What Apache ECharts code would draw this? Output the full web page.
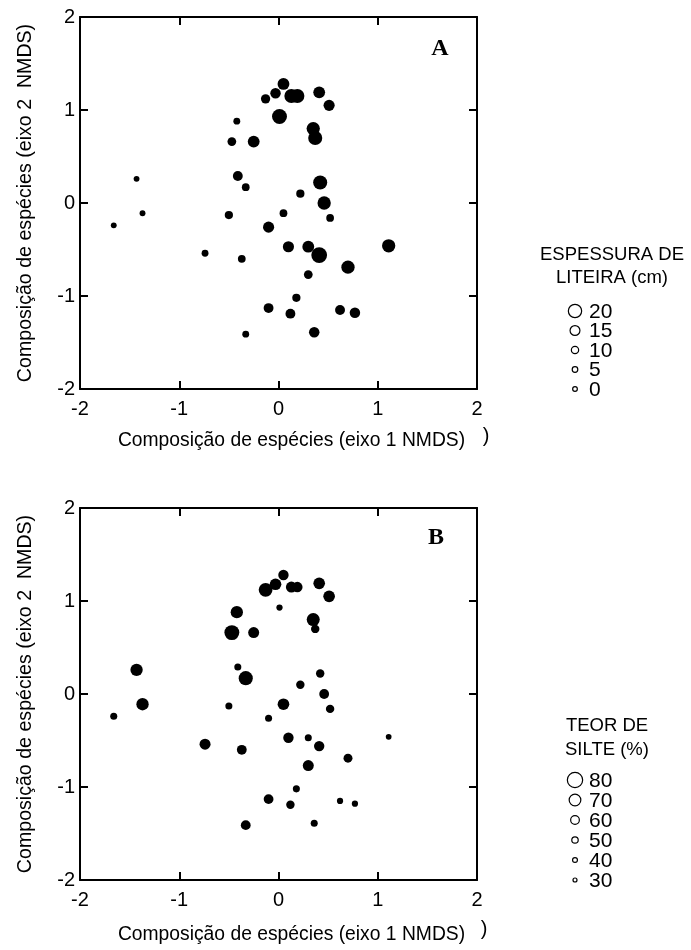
<!DOCTYPE html>
<html>
<head>
<meta charset="utf-8">
<script src="https://cdn.jsdelivr.net/npm/echarts@6/dist/echarts.min.js"></script>
<style>html,body{margin:0;padding:0;background:#fff}#c{width:691px;height:950px}</style>
</head>
<body>
<div id="c"></div>
<script>
// NMDS axis 1 and axis 2 scores (same sites in both panels)
const nmds1 = [0.05,-0.03,-0.13,0.13,0.19,0.41,0.51,0.01,-0.42,-0.47,-0.25,0.35,0.37,-1.43,-0.41,-0.33,0.42,0.22,0.46,-1.37,-0.50,0.05,0.52,-1.66,-0.10,0.10,0.30,0.41,1.11,-0.74,-0.37,0.70,0.30,0.18,-0.10,0.12,0.62,0.77,0.36,-0.33];
const nmds2 = [1.28,1.18,1.12,1.15,1.15,1.19,1.05,0.93,0.88,0.66,0.66,0.80,0.70,0.26,0.29,0.17,0.22,0.10,0.00,-0.11,-0.13,-0.11,-0.16,-0.24,-0.26,-0.47,-0.47,-0.56,-0.46,-0.54,-0.60,-0.69,-0.77,-1.02,-1.13,-1.19,-1.15,-1.18,-1.39,-1.41];
// Panel A: litter thickness (cm)
const litter = [18,16,14,21,21,18,17,22,9,13,18,20,21,6,15,11,21,12,20,6,12,11,11,6,17,17,18,23,20,9,11,20,13,12,15,15,15,16,16,9];
// Panel B: silt content (%)
const silt = [66,70,76,68,66,70,70,49,72,79,68,74,59,72,53,77,59,59,64,72,53,70,59,53,53,66,53,66,46,68,64,61,68,53,64,59,49,49,53,64];
// Axis ticks and legend entries
const axisTicks = [-2,-1,0,1,2];
const litterLegend = [20,15,10,5,0];
const siltLegend = [80,70,60,50,40,30];
const xTitle = 'Composição de espécies (eixo 1 NMDS)';
const yTitle = 'Composição de espécies (eixo 2  NMDS)';

const FONT = '"Liberation Sans", Arial, sans-serif';
function sizeLitter(v){ return 4.7 + 0.09*v + 0.017*v*v; }
function sizeSilt(v){ const u = v-30; return 4 + 0.0527*u + 0.003467*u*u; }

const chart = echarts.init(document.getElementById('c'), null, {renderer:'canvas'});

const grids = [
  {left:80, top:17, width:397, height:372},
  {left:80, top:508, width:397, height:372}
];

function xAx(gi, pos, showLabel, gap){
  return {
    gridIndex: gi, type:'value', position: pos, min: axisTicks[0], max: axisTicks[axisTicks.length-1], interval: 1,
    splitLine:{show:false},
    axisLine:{show:true, onZero:false, lineStyle:{color:'#000', width:2}},
    axisTick:{show:true, inside:true, length:8, lineStyle:{color:'#000', width:2}},
    axisLabel:{show:showLabel, color:'#000', fontSize:20, fontFamily:FONT, margin:10},
    name: showLabel ? xTitle : '', nameLocation:'middle', nameGap: gap,
    nameTextStyle:{color:'#000', fontSize:19.3, fontFamily:FONT, padding:[0,0,0,26]}
  };
}
function yAx(gi, pos, showLabel){
  return {
    gridIndex: gi, type:'value', position: pos, min: axisTicks[0], max: axisTicks[axisTicks.length-1], interval: 1,
    splitLine:{show:false},
    axisLine:{show:true, onZero:false, lineStyle:{color:'#000', width:2}},
    axisTick:{show:true, inside:true, length:8, lineStyle:{color:'#000', width:2}},
    axisLabel:{show:showLabel, color:'#000', fontSize:20, fontFamily:FONT, margin:5},
    name: showLabel ? yTitle : '', nameLocation:'middle', nameGap: 44, nameRotate: 90,
    nameTextStyle:{color:'#000', fontSize:19.6, fontFamily:FONT}
  };
}

const dataA = nmds1.map((x,i)=>[x, nmds2[i], litter[i]]);
const dataB = nmds1.map((x,i)=>[x, nmds2[i], silt[i]]);

const graphics = [];
function txt(x,y,t,opt){
  graphics.push({type:'text', x:x, y:y, style:Object.assign({text:t, fill:'#000', font:'19px '+FONT, textAlign:'center', textVerticalAlign:'middle'}, opt||{})});
}
// panel letters
txt(440, 49, 'A', {font:'bold 24px "Liberation Serif", "Times New Roman", serif'});
txt(436, 538, 'B', {font:'bold 24px "Liberation Serif", "Times New Roman", serif'});
// stray parentheses
txt(486, 436, ')', {font:'20px '+FONT});
txt(484, 929, ')', {font:'20px '+FONT});
// legend A
txt(612, 255, 'ESPESSURA DE', {font:'18.5px '+FONT});
txt(612, 278, 'LITEIRA (cm)', {font:'18.5px '+FONT});
litterLegend.forEach((v,i)=>{
  const y = 311 + i*19.5;
  graphics.push({type:'circle', shape:{cx:575, cy:y, r:sizeLitter(v)/2}, style:{fill:'#fff', stroke:'#000', lineWidth:1.2}});
  txt(589, y+1, String(v), {font:'21px '+FONT, textAlign:'left'});
});
// legend B
txt(607, 726, 'TEOR DE', {font:'18.5px '+FONT});
txt(607, 750, 'SILTE (%)', {font:'18.5px '+FONT});
siltLegend.forEach((v,i)=>{
  const y = 780 + i*20;
  graphics.push({type:'circle', shape:{cx:575, cy:y, r:sizeSilt(v)/2}, style:{fill:'#fff', stroke:'#000', lineWidth:1.2}});
  txt(589, y+1, String(v), {font:'21px '+FONT, textAlign:'left'});
});

chart.setOption({
  animation:false,
  backgroundColor:'#fff',
  grid: grids,
  xAxis: [xAx(0,'bottom',true,42), xAx(0,'top',false,0), xAx(1,'bottom',true,45), xAx(1,'top',false,0)],
  yAxis: [yAx(0,'left',true), yAx(0,'right',false), yAx(1,'left',true), yAx(1,'right',false)],
  series: [
    {type:'scatter', xAxisIndex:0, yAxisIndex:0, data:dataA, symbol:'circle',
     symbolSize: d=>sizeLitter(d[2]), itemStyle:{color:'#000', opacity:1}},
    {type:'scatter', xAxisIndex:2, yAxisIndex:2, data:dataB, symbol:'circle',
     symbolSize: d=>sizeSilt(d[2]), itemStyle:{color:'#000', opacity:1}}
  ],
  graphic: graphics
});
</script>
</body>
</html>
